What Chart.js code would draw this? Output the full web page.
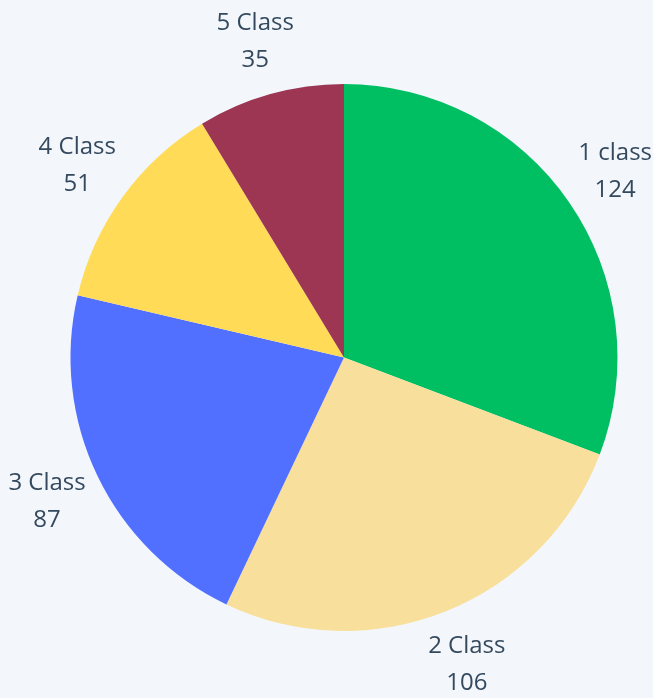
<!DOCTYPE html>
<html>
<head>
<meta charset="utf-8">
<script src="https://cdn.jsdelivr.net/npm/chart.js@4"></script>
<style>
html,body{margin:0;padding:0;background:#f3f7fb;}
canvas{display:block;}
</style>
</head>
<body>
<canvas id="c" width="653" height="698"></canvas>
<script>
const categories = ["1 class", "2 Class", "3 Class", "4 Class", "5 Class"];
const values = [124, 106, 87, 51, 35];
const colors = ["#00bf63", "#f8df9b", "#5270ff", "#ffdb58", "#9c3652"];

const outsideLabels = {
  id: 'outsideLabels',
  afterDatasetsDraw(chart) {
    const ctx = chart.ctx;
    const meta = chart.getDatasetMeta(0);
    ctx.save();
    ctx.fillStyle = '#34495e';
    ctx.font = '24px "Open Sans", Lato, sans-serif';
    ctx.textAlign = 'center';
    ctx.textBaseline = 'middle';
    meta.data.forEach((arc, i) => {
      const p = arc.getProps(['x','y','startAngle','endAngle','outerRadius'], true);
      const mid = (p.startAngle + p.endAngle) / 2;
      const r = p.outerRadius + 56;
      const px = p.x + Math.cos(mid) * r;
      const py = p.y + Math.sin(mid) * r + 1.5;
      ctx.fillText(chart.data.labels[i], px, py - 18.5);
      ctx.fillText(String(chart.data.datasets[0].data[i]), px, py + 18.5);
    });
    ctx.restore();
  }
};

new Chart(document.getElementById('c'), {
  type: 'pie',
  data: {
    labels: categories,
    datasets: [{ data: values, backgroundColor: colors, borderWidth: 0 }]
  },
  options: {
    responsive: false,
    animation: false,
    layout: { padding: { left: 70, right: 35, top: 84, bottom: 67 } },
    plugins: { legend: { display: false }, tooltip: { enabled: false } }
  },
  plugins: [outsideLabels]
});
</script>
</body>
</html>
